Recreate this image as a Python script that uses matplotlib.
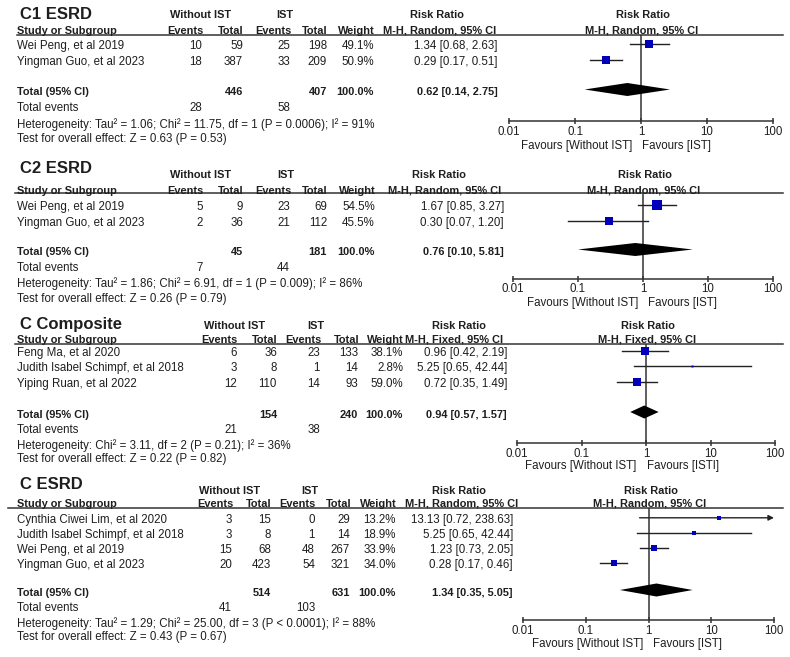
import matplotlib
matplotlib.use('Agg')
import matplotlib.pyplot as plt
import numpy as np

plt.rcParams['font.family'] = ['Liberation Sans', 'DejaVu Sans']

# ------------------------------------------------------------------ data
tick_values = [0.01, 0.1, 1, 10, 100]
tick_labels = ["0.01", "0.1", "1", "10", "100"]
fav_left = "Favours [Without IST]"
total_weight = 100.0

# Panel C1 ESRD
p1_title = "C1 ESRD"
p1_method = "M-H, Random, 95% CI"
p1_studies = ["Wei Peng, et al 2019", "Yingman Guo, et al 2023"]
p1_ev_without = [10, 18]
p1_tot_without = [59, 387]
p1_ev_ist = [25, 33]
p1_tot_ist = [198, 209]
p1_weight = [49.1, 50.9]
p1_rr = [1.34, 0.29]
p1_lo = [0.68, 0.17]
p1_hi = [2.63, 0.51]
p1_totals = [446, 407]
p1_total_events = [28, 58]
p1_pooled = [0.62, 0.14, 2.75]
p1_het = "Heterogeneity: Tau\u00b2 = 1.06; Chi\u00b2 = 11.75, df = 1 (P = 0.0006); I\u00b2 = 91%"
p1_test = "Test for overall effect: Z = 0.63 (P = 0.53)"
p1_fav_right = "Favours [IST]"

# Panel C2 ESRD
p2_title = "C2 ESRD"
p2_method = "M-H, Random, 95% CI"
p2_studies = ["Wei Peng, et al 2019", "Yingman Guo, et al 2023"]
p2_ev_without = [5, 2]
p2_tot_without = [9, 36]
p2_ev_ist = [23, 21]
p2_tot_ist = [69, 112]
p2_weight = [54.5, 45.5]
p2_rr = [1.67, 0.30]
p2_lo = [0.85, 0.07]
p2_hi = [3.27, 1.20]
p2_totals = [45, 181]
p2_total_events = [7, 44]
p2_pooled = [0.76, 0.10, 5.81]
p2_het = "Heterogeneity: Tau\u00b2 = 1.86; Chi\u00b2 = 6.91, df = 1 (P = 0.009); I\u00b2 = 86%"
p2_test = "Test for overall effect: Z = 0.26 (P = 0.79)"
p2_fav_right = "Favours [IST]"

# Panel C Composite
p3_title = "C Composite"
p3_method = "M-H, Fixed, 95% CI"
p3_studies = ["Feng Ma, et al 2020", "Judith Isabel Schimpf, et al 2018", "Yiping Ruan, et al 2022"]
p3_ev_without = [6, 3, 12]
p3_tot_without = [36, 8, 110]
p3_ev_ist = [23, 1, 14]
p3_tot_ist = [133, 14, 93]
p3_weight = [38.1, 2.8, 59.0]
p3_rr = [0.96, 5.25, 0.72]
p3_lo = [0.42, 0.65, 0.35]
p3_hi = [2.19, 42.44, 1.49]
p3_totals = [154, 240]
p3_total_events = [21, 38]
p3_pooled = [0.94, 0.57, 1.57]
p3_het = "Heterogeneity: Chi\u00b2 = 3.11, df = 2 (P = 0.21); I\u00b2 = 36%"
p3_test = "Test for overall effect: Z = 0.22 (P = 0.82)"
p3_fav_right = "Favours [ISTI]"

# Panel C ESRD
p4_title = "C ESRD"
p4_method = "M-H, Random, 95% CI"
p4_studies = ["Cynthia Ciwei Lim, et al 2020", "Judith Isabel Schimpf, et al 2018",
              "Wei Peng, et al 2019", "Yingman Guo, et al 2023"]
p4_ev_without = [3, 3, 15, 20]
p4_tot_without = [15, 8, 68, 423]
p4_ev_ist = [0, 1, 48, 54]
p4_tot_ist = [29, 14, 267, 321]
p4_weight = [13.2, 18.9, 33.9, 34.0]
p4_rr = [13.13, 5.25, 1.23, 0.28]
p4_lo = [0.72, 0.65, 0.73, 0.17]
p4_hi = [238.63, 42.44, 2.05, 0.46]
p4_totals = [514, 631]
p4_total_events = [41, 103]
p4_pooled = [1.34, 0.35, 5.05]
p4_het = "Heterogeneity: Tau\u00b2 = 1.29; Chi\u00b2 = 25.00, df = 3 (P < 0.0001); I\u00b2 = 88%"
p4_test = "Test for overall effect: Z = 0.43 (P = 0.67)"
p4_fav_right = "Favours [IST]"

panels = [
    dict(title=p1_title, method=p1_method, studies=p1_studies, ev_c=p1_ev_without, tot_c=p1_tot_without,
         ev_t=p1_ev_ist, tot_t=p1_tot_ist, weight=p1_weight, rr=p1_rr, lo=p1_lo, hi=p1_hi,
         totals=p1_totals, tev=p1_total_events, pooled=p1_pooled, het=p1_het, test=p1_test, favr=p1_fav_right),
    dict(title=p2_title, method=p2_method, studies=p2_studies, ev_c=p2_ev_without, tot_c=p2_tot_without,
         ev_t=p2_ev_ist, tot_t=p2_tot_ist, weight=p2_weight, rr=p2_rr, lo=p2_lo, hi=p2_hi,
         totals=p2_totals, tev=p2_total_events, pooled=p2_pooled, het=p2_het, test=p2_test, favr=p2_fav_right),
    dict(title=p3_title, method=p3_method, studies=p3_studies, ev_c=p3_ev_without, tot_c=p3_tot_without,
         ev_t=p3_ev_ist, tot_t=p3_tot_ist, weight=p3_weight, rr=p3_rr, lo=p3_lo, hi=p3_hi,
         totals=p3_totals, tev=p3_total_events, pooled=p3_pooled, het=p3_het, test=p3_test, favr=p3_fav_right),
    dict(title=p4_title, method=p4_method, studies=p4_studies, ev_c=p4_ev_without, tot_c=p4_tot_without,
         ev_t=p4_ev_ist, tot_t=p4_tot_ist, weight=p4_weight, rr=p4_rr, lo=p4_lo, hi=p4_hi,
         totals=p4_totals, tev=p4_total_events, pooled=p4_pooled, het=p4_het, test=p4_test, favr=p4_fav_right),
]

# ------------------------------------------------------------------ layout (pixels)
layouts = [
    dict(title_y=14, group_y=14, head_y=30, line_y=35, line_x0=17,
         row0=45.5, row_step=16, total_y=91.5, events_y=107.5, het_y=123.5, test_y=138.5,
         cols=[202, 243, 290, 327, 374, 498], without_c=201, ist_c=285, rr_c=437, meth_c=440,
         fx0=509, fx1=773, axis_y=121, tick_pad=1.0, fav_y=145, fav_l=632, fav_r=642, sq=12),
    dict(title_y=168, group_y=174, head_y=190, line_y=193, line_x0=15,
         row0=206, row_step=16, total_y=251.5, events_y=267, het_y=283, test_y=298,
         cols=[203, 243, 290, 327, 375, 504], without_c=201, ist_c=286, rr_c=439, meth_c=445,
         fx0=513, fx1=773, axis_y=279, tick_pad=0.2, fav_y=302.5, fav_l=638, fav_r=648, sq=13),
    dict(title_y=324, group_y=325, head_y=339, line_y=344, line_x0=15,
         row0=352, row_step=15.5, total_y=414, events_y=429.5, het_y=444.5, test_y=458,
         cols=[237, 277, 320, 358, 403, 507], without_c=235, ist_c=316, rr_c=459, meth_c=454,
         fx0=517, fx1=775, axis_y=443, tick_pad=1.0, fav_y=465, fav_l=636, fav_r=647, sq=11.7),
    dict(title_y=484, group_y=490, head_y=503, line_y=508, line_x0=8,
         row0=519, row_step=15, total_y=592, events_y=607, het_y=622.5, test_y=636,
         cols=[232, 271, 315, 350, 396, 513], without_c=230, ist_c=310, rr_c=459, meth_c=462,
         fx0=523, fx1=774, axis_y=620, tick_pad=1.0, fav_y=643, fav_l=643, fav_r=653, sq=11.5),
]

W, H = 790, 657
TXT = '#1e1e1e'
BLUE = '#0000bb'
FS = 8.3
FSB = 7.9

fig = plt.figure(figsize=(W / 100, H / 100), dpi=100)
fig.patch.set_facecolor('white')
bg = fig.add_axes([0, 0, 1, 1])
bg.set_xlim(0, W)
bg.set_ylim(H, 0)
bg.axis('off')


def txt(x, y, s, ha='left', bold=False, size=None):
    bg.text(x, y + 0.8, s, ha=ha, va='center', color=TXT,
            fontsize=size if size else (FSB if bold else FS),
            fontweight='bold' if bold else 'normal')


for d, L in zip(panels, layouts):
    c = L['cols']
    # titles / headers
    txt(20, L['title_y'], d['title'], bold=True, size=12)
    txt(L['without_c'], L['group_y'], "Without IST", ha='center', bold=True)
    txt(L['ist_c'], L['group_y'], "IST", ha='center', bold=True)
    txt(L['rr_c'], L['group_y'], "Risk Ratio", ha='center', bold=True)
    fx_mid = (L['fx0'] + L['fx1']) / 2
    txt(fx_mid + 2, L['group_y'], "Risk Ratio", ha='center', bold=True)
    txt(17, L['head_y'], "Study or Subgroup", bold=True)
    for col, lab in zip(c[:5], ["Events", "Total", "Events", "Total", "Weight"]):
        txt(col + 1, L['head_y'], lab, ha='right', bold=True)
    txt(L['meth_c'], L['head_y'], d['method'], ha='center', bold=True)
    txt(fx_mid + 1, L['head_y'], d['method'], ha='center', bold=True)
    bg.plot([L['line_x0'], 783], [L['line_y'], L['line_y']], color='#333333', lw=1.1)

    # study rows
    ys = [L['row0'] + i * L['row_step'] for i in range(len(d['studies']))]
    for i, y in enumerate(ys):
        txt(17, y, d['studies'][i])
        txt(c[0], y, str(d['ev_c'][i]), ha='right')
        txt(c[1], y, str(d['tot_c'][i]), ha='right')
        txt(c[2], y, str(d['ev_t'][i]), ha='right')
        txt(c[3], y, str(d['tot_t'][i]), ha='right')
        txt(c[4], y, f"{d['weight'][i]:.1f}%", ha='right')
        txt(c[5], y, f"{d['rr'][i]:.2f} [{d['lo'][i]:.2f}, {d['hi'][i]:.2f}]", ha='right')

    # totals
    ty = L['total_y']
    txt(17, ty, "Total (95% CI)", bold=True)
    txt(c[1], ty, str(d['totals'][0]), ha='right', bold=True)
    txt(c[3], ty, str(d['totals'][1]), ha='right', bold=True)
    txt(c[4], ty, f"{total_weight:.1f}%", ha='right', bold=True)
    pe, plo, phi = d['pooled']
    txt(c[5], ty, f"{pe:.2f} [{plo:.2f}, {phi:.2f}]", ha='right', bold=True)
    txt(17, L['events_y'], "Total events")
    txt(c[0], L['events_y'], str(d['tev'][0]), ha='right')
    txt(c[2], L['events_y'], str(d['tev'][1]), ha='right')
    txt(17, L['het_y'], d['het'])
    txt(17, L['test_y'], d['test'])

    # forest axes
    ax = fig.add_axes([L['fx0'] / W, 1 - L['axis_y'] / H,
                       (L['fx1'] - L['fx0']) / W, (L['axis_y'] - L['line_y']) / H])
    ax.set_xscale('log')
    ax.set_xlim(0.01, 100)
    ax.set_ylim(L['axis_y'], L['line_y'])
    ax.patch.set_visible(False)
    for s in ['top', 'left', 'right']:
        ax.spines[s].set_visible(False)
    ax.spines['bottom'].set_color('#333333')
    ax.spines['bottom'].set_linewidth(1.1)
    ax.set_xticks(tick_values)
    ax.set_xticklabels(tick_labels)
    ax.xaxis.set_minor_locator(matplotlib.ticker.NullLocator())
    ax.tick_params(axis='x', direction='inout', length=5, width=1.1, color='#333333',
                   pad=L['tick_pad'], labelsize=FS, labelcolor=TXT)
    ax.set_yticks([])
    ax.axvline(1, color='#333333', lw=1.1, zorder=1)

    for i, y in enumerate(ys):
        ym = y - 1.2
        lo, hi, rr = d['lo'][i], d['hi'][i], d['rr'][i]
        if hi > 100:
            ax.annotate('', xy=(100, ym), xytext=(lo, ym),
                        arrowprops=dict(arrowstyle='-|>', lw=1, color='#222222',
                                        mutation_scale=8, shrinkA=0, shrinkB=0),
                        annotation_clip=False)
        else:
            ax.plot([lo, hi], [ym, ym], color='#222222', lw=1, zorder=2)
        side_px = L['sq'] * np.sqrt(d['weight'][i] / 100)
        ax.plot([rr], [ym], marker='s', ms=max(side_px, 1.5) * 0.72, color=BLUE,
                mec=BLUE, mew=0, linestyle='none', zorder=3)

    yd = ty - 2
    hh = 6.5
    ax.fill([plo, pe, phi, pe], [yd, yd - hh, yd, yd + hh], color='black', lw=0, zorder=3)

    txt(L['fav_l'], L['fav_y'], fav_left, ha='right')
    txt(L['fav_r'], L['fav_y'], d['favr'], ha='left')

fig.savefig('out.png', dpi=100, facecolor='white')
